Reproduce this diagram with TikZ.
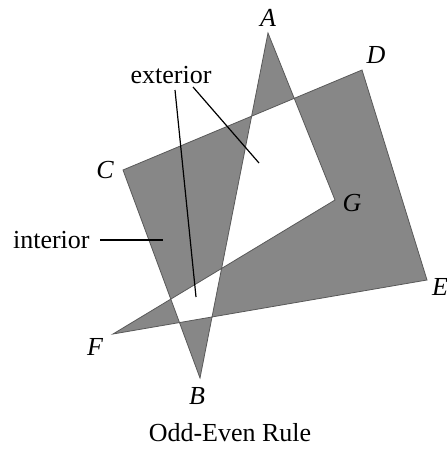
\documentclass[tikz,border=0pt]{standalone}
\usepackage{fontspec}
\setmainfont{Liberation Serif}
\usepackage{tikz}
\usetikzlibrary{positioning}
\usepackage{xcolor}
\definecolor{polygray}{gray}{0.53}

\begin{document}
\begin{tikzpicture}[
    x=.5pt,y=-.5pt,
    lab/.style={font=\fontsize{13}{15}\selectfont\itshape,inner sep=1pt},
    txt/.style={font=\fontsize{13}{15}\selectfont,inner sep=1pt},
    lead/.style={line width=.6pt,black}
  ]
    \useasboundingbox (0,0) rectangle (446,449);
    % vertices of the self-crossing polygon
    \coordinate (A) at (268,33); \coordinate (B) at (200,378);
    \coordinate (C) at (123,170); \coordinate (D) at (362,70);
    \coordinate (E) at (427,280); \coordinate (F) at (113,334);
    \coordinate (G) at (335,200);
    \fill[polygray,even odd rule] (A)--(B)--(C)--(D)--(E)--(F)--(G)--cycle;
    \draw[black!65,line width=.4pt] (A)--(B)--(C)--(D)--(E)--(F)--(G)--cycle;
    \node[lab] (lA) at (268,18) {A}; \node[lab] (lD) at (376,55) {D};
    \node[lab] (lC) at (105,170) {C}; \node[lab] (lG) at (352,203) {G};
    \node[lab] (lE) at (440,287) {E}; \node[lab] (lF) at (95,347) {F};
    \node[lab] (lB) at (197,396) {B};
    % region labels
    \node[txt] (ext) at (171,75) {exterior};
    \node[txt,anchor=east] (int) at (92,240) {interior};
    \coordinate (e1) at (175,90); \coordinate (e1t) at (196,297);
    \coordinate (e2) at (193,87); \coordinate (e2t) at (259,163);
    \coordinate (it) at (163,240);
    \draw[lead] (e1)--(e1t); \draw[lead] (e2)--(e2t);
    \draw[lead] ([xshift=4]int.east)--(it);
    \node[txt] (cap) at (230,433) {Odd-Even Rule};
\end{tikzpicture}
\end{document}
